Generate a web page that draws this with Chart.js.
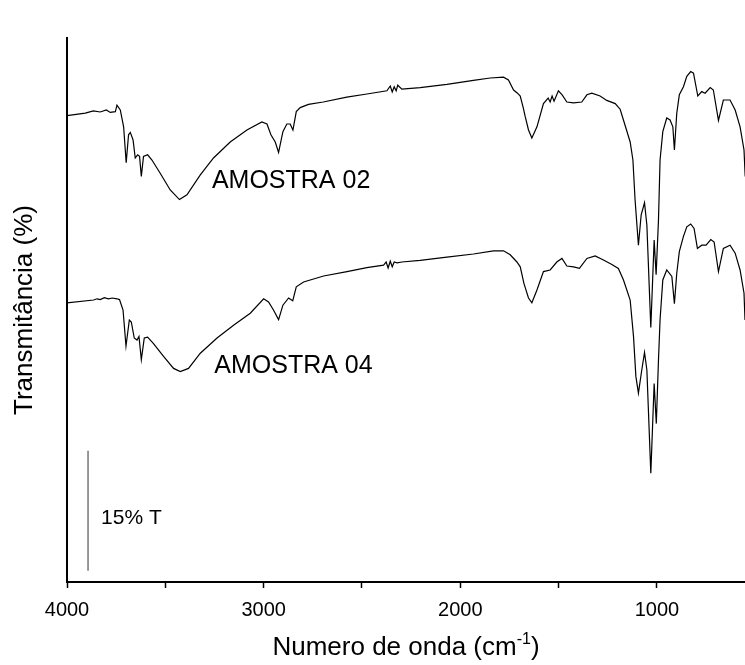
<!DOCTYPE html>
<html>
<head>
<meta charset="utf-8">
<script src="https://cdn.jsdelivr.net/npm/chart.js@4"></script>
<style>
  html, body { margin: 0; padding: 0; background: #fff; }
  #box { width: 745px; height: 665px; }
</style>
</head>
<body>
<div id="box"><canvas id="grafica"></canvas></div>
<script>
// numero de onda (cm-1) e transmitancia
const waveA02 = [4000, 3907, 3866, 3831, 3800, 3780, 3754, 3746, 3729, 3712, 3699, 3687, 3678, 3664, 3653, 3641, 3631, 3622, 3611, 3590,
    3568, 3526, 3475, 3428, 3390, 3322, 3255, 3170, 3085, 3009, 2983, 2963, 2941, 2924, 2902, 2882, 2865, 2851, 2834, 2814,
    2772, 2697, 2577, 2475, 2373, 2356, 2346, 2336, 2326, 2318, 2297, 2204, 2068, 1933, 1848, 1780, 1755, 1729, 1709, 1695,
    1679, 1670, 1653, 1636, 1610, 1577, 1553, 1543, 1533, 1523, 1501, 1482, 1458, 1424, 1382, 1356, 1331, 1289, 1255, 1212,
    1187, 1162, 1136, 1122, 1111, 1094, 1080, 1063, 1051, 1031, 1014, 1004, 992, 984, 970, 950, 933, 919, 911, 899,
    886, 865, 848, 828, 814, 792, 772, 755, 729, 713, 687, 662, 628, 602, 577, 557, 551];
const transA02 = [58.3, 58.6, 58.9, 58.75, 59.0, 58.7, 58.8, 59.6, 59.0, 56.9, 52.4, 55.9, 56.2, 55.25, 53.0, 53.4, 53.2, 50.7, 53.2, 53.4,
    52.75, 51.1, 49.0, 47.8, 48.4, 50.9, 53.0, 55.0, 56.5, 57.5, 57.25, 55.9, 55.0, 53.7, 56.3, 57.25, 57.25, 56.5, 58.8, 59.3,
    59.7, 60.0, 60.6, 61.0, 61.4, 62.0, 61.25, 61.9, 61.4, 62.1, 61.6, 61.8, 62.2, 62.7, 63.0, 63.1, 62.75, 61.5, 61.1, 60.75,
    59.2, 58.2, 56.5, 55.5, 56.9, 59.8, 60.5, 60.0, 60.75, 60.1, 61.4, 60.9, 60.0, 59.9, 60.0, 60.9, 61.1, 60.75, 60.2, 59.8,
    59.1, 57.1, 55.0, 52.75, 47.75, 42.1, 45.9, 47.4, 44.6, 31.8, 42.75, 38.4, 45.25, 52.75, 56.3, 58.0, 57.75, 56.9, 54.0, 58.6,
    60.9, 61.9, 63.2, 63.8, 63.6, 60.75, 61.3, 61.1, 61.8, 61.5, 57.7, 60.25, 60.25, 59.0, 56.9, 54.0, 50.7];

const waveA04 = [4000, 3865, 3847, 3831, 3810, 3790, 3770, 3746, 3733, 3715, 3700, 3683, 3673, 3658, 3644, 3634, 3622, 3607, 3590, 3560,
    3509, 3458, 3424, 3382, 3322, 3237, 3153, 3068, 3000, 2975, 2950, 2924, 2902, 2873, 2852, 2834, 2797, 2695, 2576, 2475,
    2390, 2377, 2367, 2356, 2346, 2336, 2321, 2297, 2204, 2068, 1933, 1831, 1780, 1746, 1712, 1695, 1676, 1653, 1636, 1610,
    1577, 1543, 1509, 1483, 1458, 1424, 1394, 1356, 1314, 1272, 1229, 1196, 1170, 1136, 1119, 1107, 1094, 1077, 1063, 1051,
    1031, 1014, 1003, 992, 984, 970, 950, 924, 911, 899, 886, 865, 848, 828, 811, 794, 772, 750, 726, 709,
    687, 662, 628, 602, 577, 557, 552];
const transA04 = [34.9, 35.25, 35.4, 35.3, 35.55, 35.4, 35.5, 35.4, 35.3, 34.0, 29.5, 32.75, 32.5, 30.5, 30.25, 30.7, 27.8, 30.5, 30.6, 29.8,
    28.2, 26.7, 26.3, 26.7, 28.6, 30.5, 32.1, 33.6, 35.4, 35.0, 34.0, 32.8, 34.6, 35.5, 35.15, 36.9, 37.5, 38.25, 38.8, 39.3,
    39.6, 40.0, 39.25, 40.1, 39.4, 40.0, 39.9, 40.0, 40.2, 40.6, 41.0, 41.4, 41.4, 40.9, 40.0, 39.4, 37.3, 35.5, 34.9, 36.5,
    38.8, 39.0, 40.0, 40.45, 39.5, 39.4, 39.2, 40.45, 40.75, 40.25, 39.7, 39.2, 37.75, 35.25, 30.7, 25.7, 23.6, 26.5, 28.7, 26.5,
    13.6, 24.8, 19.8, 27.75, 32.75, 37.75, 39.0, 38.2, 34.8, 38.6, 41.3, 43.2, 44.4, 44.75, 44.2, 41.7, 42.1, 42.1, 42.8, 42.5,
    38.8, 41.7, 42.1, 41.1, 39.0, 36.1, 32.75];

// ticks do eixo x
const tickValues = [4000, 3500, 3000, 2500, 2000, 1500, 1000];
const tickLabels = ['4000', '', '3000', '', '2000', '', '1000'];

// barra de escala 15% T
const barWave = [3893, 3893];
const barTrans = [1.4, 16.4];

const labelText = ['AMOSTRA 02', 'AMOSTRA 04', '15% T'];
const labelWave = [3263, 3251, 3827];
const labelTrans = [49.2, 26.1, 7.3];

function toPoints(xs, ys) {
    return xs.map((x, i) => ({ x: x, y: ys[i] }));
}

// textos dentro do grafico e titulo do eixo x com expoente
const textos = {
    id: 'textos',
    afterDraw(chart) {
        const ctx = chart.ctx;
        const sx = chart.scales.x;
        const sy = chart.scales.y;
        ctx.save();
        ctx.fillStyle = '#000';
        ctx.textBaseline = 'alphabetic';
        ctx.textAlign = 'left';
        for (let i = 0; i < labelText.length; i++) {
            ctx.font = (i < 2 ? '25px' : '21px') + ' "Liberation Sans", Arial, sans-serif';
            ctx.fillText(labelText[i], sx.getPixelForValue(labelWave[i]), sy.getPixelForValue(labelTrans[i]));
        }
        // Numero de onda (cm-1)
        const big = '26px "Liberation Sans", Arial, sans-serif';
        const small = '16px "Liberation Sans", Arial, sans-serif';
        const p1 = 'Numero de onda (cm', p2 = '-1', p3 = ')';
        ctx.font = big;
        const w1 = ctx.measureText(p1).width, w3 = ctx.measureText(p3).width;
        ctx.font = small;
        const w2 = ctx.measureText(p2).width;
        let x = (chart.chartArea.left + chart.chartArea.right) / 2 - (w1 + w2 + w3) / 2;
        const base = 655;
        ctx.font = big;
        ctx.fillText(p1, x, base);
        x += w1;
        ctx.font = small;
        ctx.fillText(p2, x, base - 11);
        x += w2;
        ctx.font = big;
        ctx.fillText(p3, x, base);
        ctx.restore();
    }
};

const graph = document.querySelector('#grafica');

const data = {
    datasets: [
        {
            label: 'AMOSTRA 02',
            data: toPoints(waveA02, transA02),
            borderColor: '#000',
            borderWidth: 1.2,
            pointRadius: 0,
            tension: 0
        },
        {
            label: 'AMOSTRA 04',
            data: toPoints(waveA04, transA04),
            borderColor: '#000',
            borderWidth: 1.2,
            pointRadius: 0,
            tension: 0
        },
        {
            label: '15% T',
            data: toPoints(barWave, barTrans),
            borderColor: '#777',
            borderWidth: 1.5,
            pointRadius: 0
        }
    ]
};

const config = {
    type: 'line',
    data: data,
    options: {
        responsive: true,
        maintainAspectRatio: false,
        animation: false,
        layout: { padding: { top: 38, right: 0, bottom: 0, left: 0 } },
        plugins: {
            legend: { display: false },
            tooltip: { enabled: false }
        },
        scales: {
            x: {
                type: 'linear',
                reverse: true,
                min: 552,
                max: 4000,
                border: { display: true, color: '#000', width: 2 },
                grid: { display: true, drawOnChartArea: false, drawTicks: true, tickLength: 6, color: '#000', tickWidth: 1.5 },
                ticks: {
                    autoSkip: false,
                    maxRotation: 0,
                    color: '#000',
                    padding: 10,
                    font: { family: '"Liberation Sans", Arial, sans-serif', size: 20 },
                    callback: (v) => tickLabels[tickValues.indexOf(v)]
                },
                afterBuildTicks: (scale) => {
                    scale.ticks = tickValues.map(v => ({ value: v }));
                },
                afterFit: (scale) => {
                    scale.height = 83;
                    scale.paddingLeft = 0;
                    scale.paddingRight = 0;
                }
            },
            y: {
                type: 'linear',
                min: 0,
                max: 68,
                border: { display: true, color: '#000', width: 2 },
                grid: { display: false },
                ticks: { display: false },
                title: {
                    display: true,
                    text: 'Transmitância (%)',
                    color: '#000',
                    padding: { top: 9, bottom: 0 },
                    font: { family: '"Liberation Sans", Arial, sans-serif', size: 26 }
                },
                afterFit: (scale) => { scale.width = 67; }
            }
        }
    },
    plugins: [textos]
};

const financeChart = new Chart(graph, config);
</script>
</body>
</html>
